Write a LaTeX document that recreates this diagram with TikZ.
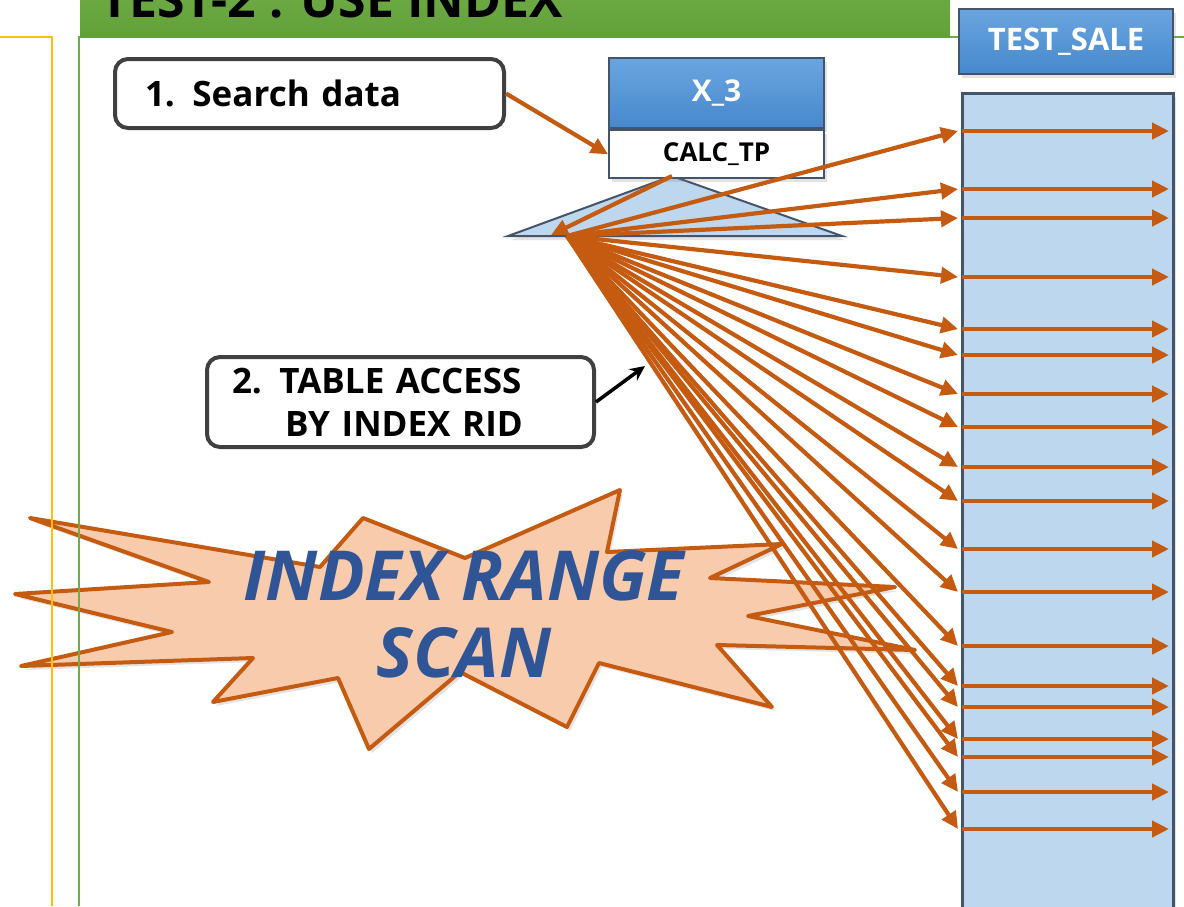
\documentclass[tikz,border=0pt]{standalone}
\usepackage{fontspec}
\setmainfont{Open Sans}
\usepackage{tikz}
\usetikzlibrary{shapes,arrows.meta,positioning,shadows,calc}
\definecolor{rustorange}{RGB}{197,90,17}
\definecolor{burstfill}{RGB}{248,203,173}
\definecolor{tablefill}{RGB}{189,215,238}
\definecolor{tableline}{RGB}{68,84,106}
\definecolor{headtop}{RGB}{106,165,224}
\definecolor{headbot}{RGB}{70,136,204}
\definecolor{titlegreen}{RGB}{112,173,71}
\definecolor{titlegreendk}{RGB}{98,160,58}
\definecolor{frameyellow}{RGB}{255,192,0}
\definecolor{notegray}{RGB}{64,64,64}
\definecolor{scanblue}{RGB}{47,85,151}
\tikzstyle{softshadow} = [drop shadow={opacity=0.22, shadow xshift=3pt, shadow yshift=-4pt}]
\tikzstyle{ridarrow} = [draw=rustorange, line width=4.2pt, -{Triangle[length=17pt,width=16pt]}]
\tikzstyle{note} = [draw=notegray, line width=4pt, rounded corners=13pt, fill=white, inner sep=0pt, anchor=north west, font=\bfseries\fontsize{35}{43}\selectfont]
\tikzstyle{headbox} = [draw=tableline, line width=2.2pt, top color=headtop, bottom color=headbot, text=white, anchor=north west, inner sep=0pt, softshadow]

\begin{document}
\begin{tikzpicture}[x=1pt, y=-1pt]
\clip (0,0) rectangle (1184,906);
\fill[white] (0,0) rectangle (1184,906);

% Burst behind everything
\filldraw[fill=burstfill, draw=rustorange, line width=4pt, line join=round, softshadow]
  (30,518) -- (209,582) -- (15,594) -- (172,632) -- (21,666) -- (253,658)
  -- (213,702) -- (338,678) -- (369,749) -- (460,672) -- (567,727) -- (599,663)
  -- (772,707) -- (717,645) -- (915,650) -- (748,616) -- (895,587) -- (710,578)
  -- (782,544) -- (607,552) -- (620,490) -- (465,558) -- (363,518) -- (320,567)
  -- cycle;
\node[font=\bfseries\itshape\fontsize{69}{77}\selectfont, text=scanblue, align=center] (scan) at (464,614) {INDEX RANGE\\SCAN};

% Frame lines
\draw[frameyellow, line width=2.2pt] (0,37) -- (52,37) -- (52,906);
\draw[titlegreen, line width=2.2pt] (1184,37) -- (79,37) -- (79,906);

% Title bar
\fill[top color=titlegreen, bottom color=titlegreendk] (80,-20) rectangle (950,37);
\node[anchor=base west, inner sep=0pt, font=\bfseries\fontsize{50}{60}\selectfont] (title) at (100,17) {TEST-2 . USE INDEX};

% Table TEST_SALE
\node[draw=tableline, line width=2.6pt, fill=tablefill, minimum width=211pt, minimum height=840pt,
  anchor=north west, inner sep=0pt, softshadow] (sale) at (961,92) {};
\node[headbox, minimum width=214pt, minimum height=65pt, font=\bfseries\fontsize{31}{36}\selectfont] (salehead) at (958,8) {TEST\_SALE};

% Index X_3 with its tree
\coordinate (root) at (672,176);
\coordinate (leftleaf) at (551,235);
\coordinate (rid) at (567,236);
\filldraw[fill=tablefill, draw=tableline, line width=2pt, softshadow] (508,236) -- (root) -- (842,236) -- cycle;
\node[headbox, minimum width=215pt, minimum height=70pt, font=\bfseries\fontsize{30}{36}\selectfont] (x3) at (608,57) {X\_3};
\node[draw=tableline, line width=2.2pt, fill=white, minimum width=215pt, minimum height=48pt, inner sep=0pt,
  font=\bfseries\fontsize{26}{30}\selectfont, below=0pt of x3, softshadow] (calc) {CALC\_TP};

% Notes
\node[note, minimum width=389pt, minimum height=69pt, text width=329pt, align=left] (search) at (113,57) {1. Search data};
\node[note, minimum width=387pt, minimum height=90pt, text width=337pt, align=left] (access) at (205,355)
  {2. TABLE ACCESS\\\hspace*{53pt}BY INDEX RID};

% Arrows
\coordinate (ridmark) at (645,366);
\draw[ridarrow] (search.east) -- (calc.west);
\draw[ridarrow] (root) -- (leftleaf);
\foreach \y in {131,189,218,277,329,355,394,427,467,501,549,592,646,686,707,739,757,792,829} {
  \coordinate (in\y) at (958,\y);
  \coordinate (row\y) at (962,\y);
  \coordinate (end\y) at (1169,\y);
  \draw[ridarrow] (rid) -- (in\y);
  \draw[ridarrow] (row\y) -- (end\y);
}
\draw[black, line width=3.5pt, -{Stealth[length=15pt,width=14pt]}] (access.east) -- (ridmark);

\end{tikzpicture}
\end{document}
